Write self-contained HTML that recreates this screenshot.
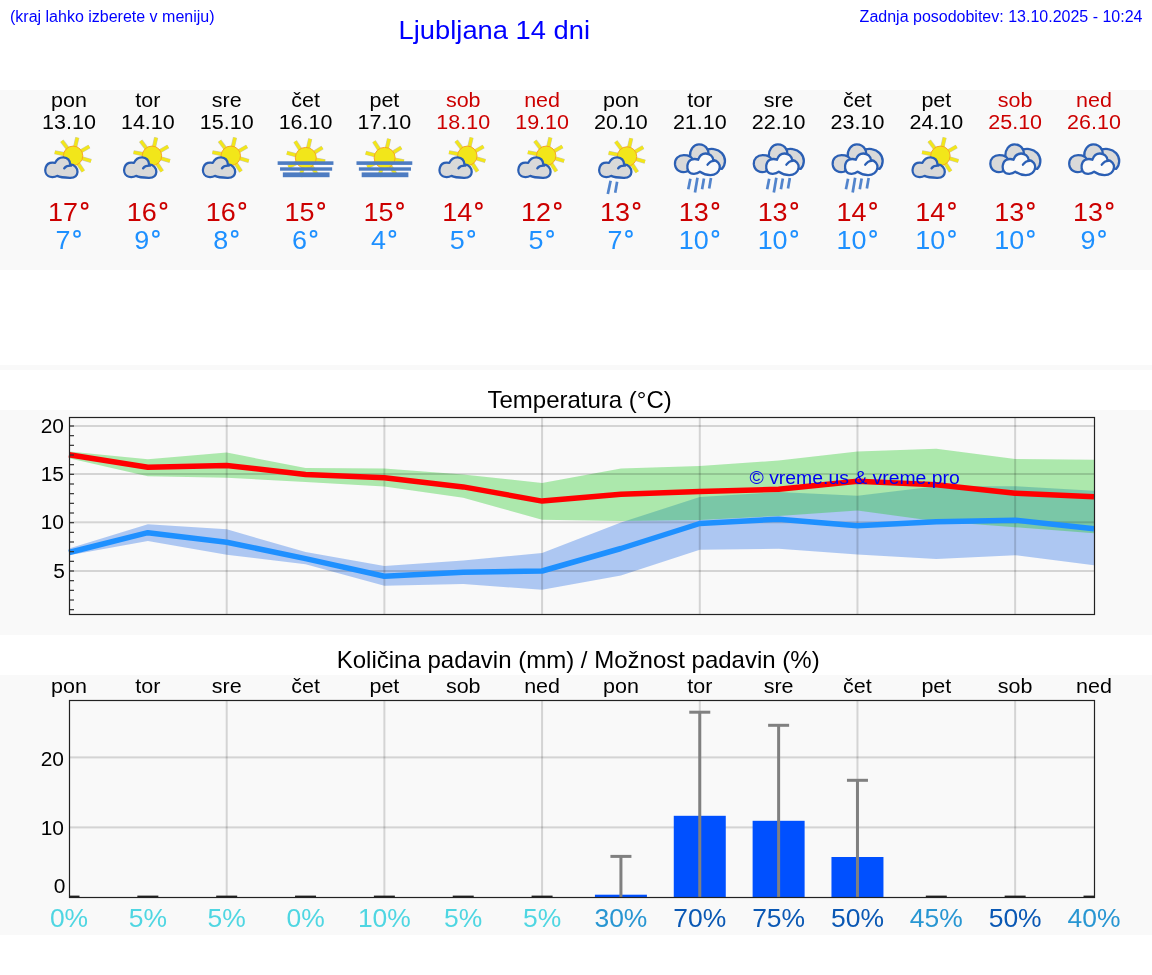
<!DOCTYPE html><html><head><meta charset="utf-8"><title>Ljubljana 14 dni</title>
<style>
html,body{margin:0;padding:0;background:#fff;width:1152px;height:975px;overflow:hidden}
body{font-family:"Liberation Sans",sans-serif;position:relative}
.hdr{position:absolute;color:#0000ff;white-space:nowrap;line-height:1}
svg{position:absolute;left:0;top:0;will-change:transform}
svg text{font-family:"Liberation Sans",sans-serif}
</style></head><body>
<svg width="1152" height="975" viewBox="0 0 1152 975">
<rect x="0" y="90" width="1152" height="180" fill="#f9f9f9"/>
<rect x="0" y="365" width="1152" height="5" fill="#f9f9f9"/>
<rect x="0" y="410" width="1152" height="225" fill="#f9f9f9"/>
<rect x="0" y="675" width="1152" height="260" fill="#f9f9f9"/>

<text x="10.00" y="21.60" text-anchor="start" font-size="16" fill="#0000ff">(kraj lahko izberete v meniju)</text>
<text transform="translate(398.6,39.3) scale(1.035,1)" font-size="26.4" fill="#0000ff">Ljubljana 14 dni</text>
<text x="1142.50" y="21.50" text-anchor="end" font-size="16" fill="#0000ff">Zadnja posodobitev: 13.10.2025 - 10:24</text>
<text transform="translate(69.00,106.50) scale(1.05,1)" text-anchor="middle" font-size="20.48" fill="#000">pon</text>
<text transform="translate(69.00,128.70) scale(1.05,1)" text-anchor="middle" font-size="20.48" fill="#000">13.10</text>
<line x1="64.27" y1="154.08" x2="54.74" y2="152.23" stroke="#8c8c78" stroke-width="4.2" stroke-linecap="butt" opacity="0.45"/><line x1="64.27" y1="154.08" x2="54.74" y2="152.23" stroke="#f2e61a" stroke-width="3.2"/><line x1="67.68" y1="148.61" x2="61.85" y2="140.87" stroke="#8c8c78" stroke-width="4.2" stroke-linecap="butt" opacity="0.45"/><line x1="67.68" y1="148.61" x2="61.85" y2="140.87" stroke="#f2e61a" stroke-width="3.2"/><line x1="75.12" y1="147.03" x2="77.31" y2="137.58" stroke="#8c8c78" stroke-width="4.2" stroke-linecap="butt" opacity="0.45"/><line x1="75.12" y1="147.03" x2="77.31" y2="137.58" stroke="#f2e61a" stroke-width="3.2"/><line x1="80.89" y1="151.30" x2="89.29" y2="146.45" stroke="#8c8c78" stroke-width="4.2" stroke-linecap="butt" opacity="0.45"/><line x1="80.89" y1="151.30" x2="89.29" y2="146.45" stroke="#f2e61a" stroke-width="3.2"/><line x1="81.75" y1="158.28" x2="91.08" y2="160.95" stroke="#8c8c78" stroke-width="4.2" stroke-linecap="butt" opacity="0.45"/><line x1="81.75" y1="158.28" x2="91.08" y2="160.95" stroke="#f2e61a" stroke-width="3.2"/><line x1="78.00" y1="163.35" x2="83.28" y2="171.48" stroke="#8c8c78" stroke-width="4.2" stroke-linecap="butt" opacity="0.45"/><line x1="78.00" y1="163.35" x2="83.28" y2="171.48" stroke="#f2e61a" stroke-width="3.2"/><line x1="70.77" y1="164.49" x2="68.26" y2="173.86" stroke="#8c8c78" stroke-width="4.2" stroke-linecap="butt" opacity="0.45"/><line x1="70.77" y1="164.49" x2="68.26" y2="173.86" stroke="#f2e61a" stroke-width="3.2"/><line x1="65.31" y1="160.30" x2="56.91" y2="165.15" stroke="#8c8c78" stroke-width="4.2" stroke-linecap="butt" opacity="0.45"/><line x1="65.31" y1="160.30" x2="56.91" y2="165.15" stroke="#f2e61a" stroke-width="3.2"/><circle cx="73.10" cy="155.80" r="9.7" fill="#f2e61a" stroke="#f5a623" stroke-width="1"/><g transform="translate(40.00,135.00) scale(0.052083)"><path d="M330,785 C280,815 200,815 160,790 C105,755 90,680 110,620 C135,545 210,520 290,535 C320,470 380,425 450,428 C530,432 575,490 580,565 C670,570 725,640 720,710 C715,790 650,825 570,822 C480,820 390,815 330,785 Z" fill="#d9d9d9" stroke="#2b5fb4" stroke-width="44" stroke-linejoin="round"/><path d="M465,640 C490,600 540,585 600,588" fill="none" stroke="#2b5fb4" stroke-width="44" stroke-linecap="round"/></g>
<text transform="translate(63.00,220.80) scale(1.07,1)" text-anchor="middle" font-size="25.2" fill="#cc0000">17</text><circle cx="84.66" cy="205.90" r="2.95" fill="none" stroke="#cc0000" stroke-width="1.75"/>
<text transform="translate(63.00,248.80) scale(1.07,1)" text-anchor="middle" font-size="25.2" fill="#1e90ff">7</text><circle cx="77.03" cy="233.90" r="2.95" fill="none" stroke="#1e90ff" stroke-width="1.75"/>
<text transform="translate(147.85,106.50) scale(1.05,1)" text-anchor="middle" font-size="20.48" fill="#000">tor</text>
<text transform="translate(147.85,128.70) scale(1.05,1)" text-anchor="middle" font-size="20.48" fill="#000">14.10</text>
<line x1="143.11" y1="154.08" x2="133.59" y2="152.23" stroke="#8c8c78" stroke-width="4.2" stroke-linecap="butt" opacity="0.45"/><line x1="143.11" y1="154.08" x2="133.59" y2="152.23" stroke="#f2e61a" stroke-width="3.2"/><line x1="146.53" y1="148.61" x2="140.69" y2="140.87" stroke="#8c8c78" stroke-width="4.2" stroke-linecap="butt" opacity="0.45"/><line x1="146.53" y1="148.61" x2="140.69" y2="140.87" stroke="#f2e61a" stroke-width="3.2"/><line x1="153.97" y1="147.03" x2="156.15" y2="137.58" stroke="#8c8c78" stroke-width="4.2" stroke-linecap="butt" opacity="0.45"/><line x1="153.97" y1="147.03" x2="156.15" y2="137.58" stroke="#f2e61a" stroke-width="3.2"/><line x1="159.74" y1="151.30" x2="168.14" y2="146.45" stroke="#8c8c78" stroke-width="4.2" stroke-linecap="butt" opacity="0.45"/><line x1="159.74" y1="151.30" x2="168.14" y2="146.45" stroke="#f2e61a" stroke-width="3.2"/><line x1="160.60" y1="158.28" x2="169.92" y2="160.95" stroke="#8c8c78" stroke-width="4.2" stroke-linecap="butt" opacity="0.45"/><line x1="160.60" y1="158.28" x2="169.92" y2="160.95" stroke="#f2e61a" stroke-width="3.2"/><line x1="156.85" y1="163.35" x2="162.13" y2="171.48" stroke="#8c8c78" stroke-width="4.2" stroke-linecap="butt" opacity="0.45"/><line x1="156.85" y1="163.35" x2="162.13" y2="171.48" stroke="#f2e61a" stroke-width="3.2"/><line x1="149.62" y1="164.49" x2="147.11" y2="173.86" stroke="#8c8c78" stroke-width="4.2" stroke-linecap="butt" opacity="0.45"/><line x1="149.62" y1="164.49" x2="147.11" y2="173.86" stroke="#f2e61a" stroke-width="3.2"/><line x1="144.15" y1="160.30" x2="135.75" y2="165.15" stroke="#8c8c78" stroke-width="4.2" stroke-linecap="butt" opacity="0.45"/><line x1="144.15" y1="160.30" x2="135.75" y2="165.15" stroke="#f2e61a" stroke-width="3.2"/><circle cx="151.95" cy="155.80" r="9.7" fill="#f2e61a" stroke="#f5a623" stroke-width="1"/><g transform="translate(118.85,135.00) scale(0.052083)"><path d="M330,785 C280,815 200,815 160,790 C105,755 90,680 110,620 C135,545 210,520 290,535 C320,470 380,425 450,428 C530,432 575,490 580,565 C670,570 725,640 720,710 C715,790 650,825 570,822 C480,820 390,815 330,785 Z" fill="#d9d9d9" stroke="#2b5fb4" stroke-width="44" stroke-linejoin="round"/><path d="M465,640 C490,600 540,585 600,588" fill="none" stroke="#2b5fb4" stroke-width="44" stroke-linecap="round"/></g>
<text transform="translate(141.85,220.80) scale(1.07,1)" text-anchor="middle" font-size="25.2" fill="#cc0000">16</text><circle cx="163.51" cy="205.90" r="2.95" fill="none" stroke="#cc0000" stroke-width="1.75"/>
<text transform="translate(141.85,248.80) scale(1.07,1)" text-anchor="middle" font-size="25.2" fill="#1e90ff">9</text><circle cx="155.88" cy="233.90" r="2.95" fill="none" stroke="#1e90ff" stroke-width="1.75"/>
<text transform="translate(226.69,106.50) scale(1.05,1)" text-anchor="middle" font-size="20.48" fill="#000">sre</text>
<text transform="translate(226.69,128.70) scale(1.05,1)" text-anchor="middle" font-size="20.48" fill="#000">15.10</text>
<line x1="221.96" y1="154.08" x2="212.44" y2="152.23" stroke="#8c8c78" stroke-width="4.2" stroke-linecap="butt" opacity="0.45"/><line x1="221.96" y1="154.08" x2="212.44" y2="152.23" stroke="#f2e61a" stroke-width="3.2"/><line x1="225.38" y1="148.61" x2="219.54" y2="140.87" stroke="#8c8c78" stroke-width="4.2" stroke-linecap="butt" opacity="0.45"/><line x1="225.38" y1="148.61" x2="219.54" y2="140.87" stroke="#f2e61a" stroke-width="3.2"/><line x1="232.82" y1="147.03" x2="235.00" y2="137.58" stroke="#8c8c78" stroke-width="4.2" stroke-linecap="butt" opacity="0.45"/><line x1="232.82" y1="147.03" x2="235.00" y2="137.58" stroke="#f2e61a" stroke-width="3.2"/><line x1="238.59" y1="151.30" x2="246.99" y2="146.45" stroke="#8c8c78" stroke-width="4.2" stroke-linecap="butt" opacity="0.45"/><line x1="238.59" y1="151.30" x2="246.99" y2="146.45" stroke="#f2e61a" stroke-width="3.2"/><line x1="239.44" y1="158.28" x2="248.77" y2="160.95" stroke="#8c8c78" stroke-width="4.2" stroke-linecap="butt" opacity="0.45"/><line x1="239.44" y1="158.28" x2="248.77" y2="160.95" stroke="#f2e61a" stroke-width="3.2"/><line x1="235.69" y1="163.35" x2="240.98" y2="171.48" stroke="#8c8c78" stroke-width="4.2" stroke-linecap="butt" opacity="0.45"/><line x1="235.69" y1="163.35" x2="240.98" y2="171.48" stroke="#f2e61a" stroke-width="3.2"/><line x1="228.46" y1="164.49" x2="225.95" y2="173.86" stroke="#8c8c78" stroke-width="4.2" stroke-linecap="butt" opacity="0.45"/><line x1="228.46" y1="164.49" x2="225.95" y2="173.86" stroke="#f2e61a" stroke-width="3.2"/><line x1="223.00" y1="160.30" x2="214.60" y2="165.15" stroke="#8c8c78" stroke-width="4.2" stroke-linecap="butt" opacity="0.45"/><line x1="223.00" y1="160.30" x2="214.60" y2="165.15" stroke="#f2e61a" stroke-width="3.2"/><circle cx="230.79" cy="155.80" r="9.7" fill="#f2e61a" stroke="#f5a623" stroke-width="1"/><g transform="translate(197.69,135.00) scale(0.052083)"><path d="M330,785 C280,815 200,815 160,790 C105,755 90,680 110,620 C135,545 210,520 290,535 C320,470 380,425 450,428 C530,432 575,490 580,565 C670,570 725,640 720,710 C715,790 650,825 570,822 C480,820 390,815 330,785 Z" fill="#d9d9d9" stroke="#2b5fb4" stroke-width="44" stroke-linejoin="round"/><path d="M465,640 C490,600 540,585 600,588" fill="none" stroke="#2b5fb4" stroke-width="44" stroke-linecap="round"/></g>
<text transform="translate(220.69,220.80) scale(1.07,1)" text-anchor="middle" font-size="25.2" fill="#cc0000">16</text><circle cx="242.36" cy="205.90" r="2.95" fill="none" stroke="#cc0000" stroke-width="1.75"/>
<text transform="translate(220.69,248.80) scale(1.07,1)" text-anchor="middle" font-size="25.2" fill="#1e90ff">8</text><circle cx="234.72" cy="233.90" r="2.95" fill="none" stroke="#1e90ff" stroke-width="1.75"/>
<text transform="translate(305.54,106.50) scale(1.05,1)" text-anchor="middle" font-size="20.48" fill="#000">čet</text>
<text transform="translate(305.54,128.70) scale(1.05,1)" text-anchor="middle" font-size="20.48" fill="#000">16.10</text>
<line x1="296.13" y1="155.31" x2="286.86" y2="152.83" stroke="#8c8c78" stroke-width="4.2" stroke-linecap="butt" opacity="0.45"/><line x1="296.13" y1="155.31" x2="286.86" y2="152.83" stroke="#f2e61a" stroke-width="3.2"/><line x1="300.34" y1="149.51" x2="295.11" y2="141.46" stroke="#8c8c78" stroke-width="4.2" stroke-linecap="butt" opacity="0.45"/><line x1="300.34" y1="149.51" x2="295.11" y2="141.46" stroke="#f2e61a" stroke-width="3.2"/><line x1="308.04" y1="148.16" x2="310.20" y2="138.80" stroke="#8c8c78" stroke-width="4.2" stroke-linecap="butt" opacity="0.45"/><line x1="308.04" y1="148.16" x2="310.20" y2="138.80" stroke="#f2e61a" stroke-width="3.2"/><line x1="314.27" y1="152.60" x2="322.41" y2="147.51" stroke="#8c8c78" stroke-width="4.2" stroke-linecap="butt" opacity="0.45"/><line x1="314.27" y1="152.60" x2="322.41" y2="147.51" stroke="#f2e61a" stroke-width="3.2"/><line x1="315.64" y1="159.64" x2="325.09" y2="161.30" stroke="#8c8c78" stroke-width="4.2" stroke-linecap="butt" opacity="0.45"/><line x1="315.64" y1="159.64" x2="325.09" y2="161.30" stroke="#f2e61a" stroke-width="3.2"/><line x1="311.38" y1="166.19" x2="316.75" y2="174.15" stroke="#8c8c78" stroke-width="4.2" stroke-linecap="butt" opacity="0.45"/><line x1="311.38" y1="166.19" x2="316.75" y2="174.15" stroke="#f2e61a" stroke-width="3.2"/><line x1="303.03" y1="167.51" x2="300.39" y2="176.74" stroke="#8c8c78" stroke-width="4.2" stroke-linecap="butt" opacity="0.45"/><line x1="303.03" y1="167.51" x2="300.39" y2="176.74" stroke="#f2e61a" stroke-width="3.2"/><line x1="296.96" y1="162.59" x2="288.48" y2="167.10" stroke="#8c8c78" stroke-width="4.2" stroke-linecap="butt" opacity="0.45"/><line x1="296.96" y1="162.59" x2="288.48" y2="167.10" stroke="#f2e61a" stroke-width="3.2"/><circle cx="305.79" cy="157.90" r="10.5" fill="#f2e61a" stroke="#f5a623" stroke-width="1"/><rect x="277.64" y="161.3" width="55.8" height="3.6" fill="#4d7cc2"/><rect x="280.04" y="167.3" width="52.1" height="3.4" fill="#4d7cc2"/><rect x="282.84" y="172.4" width="46.7" height="4.8" fill="#4d7cc2"/>
<text transform="translate(299.54,220.80) scale(1.07,1)" text-anchor="middle" font-size="25.2" fill="#cc0000">15</text><circle cx="321.20" cy="205.90" r="2.95" fill="none" stroke="#cc0000" stroke-width="1.75"/>
<text transform="translate(299.54,248.80) scale(1.07,1)" text-anchor="middle" font-size="25.2" fill="#1e90ff">6</text><circle cx="313.57" cy="233.90" r="2.95" fill="none" stroke="#1e90ff" stroke-width="1.75"/>
<text transform="translate(384.38,106.50) scale(1.05,1)" text-anchor="middle" font-size="20.48" fill="#000">pet</text>
<text transform="translate(384.38,128.70) scale(1.05,1)" text-anchor="middle" font-size="20.48" fill="#000">17.10</text>
<line x1="374.98" y1="155.31" x2="365.70" y2="152.83" stroke="#8c8c78" stroke-width="4.2" stroke-linecap="butt" opacity="0.45"/><line x1="374.98" y1="155.31" x2="365.70" y2="152.83" stroke="#f2e61a" stroke-width="3.2"/><line x1="379.19" y1="149.51" x2="373.96" y2="141.46" stroke="#8c8c78" stroke-width="4.2" stroke-linecap="butt" opacity="0.45"/><line x1="379.19" y1="149.51" x2="373.96" y2="141.46" stroke="#f2e61a" stroke-width="3.2"/><line x1="386.88" y1="148.16" x2="389.04" y2="138.80" stroke="#8c8c78" stroke-width="4.2" stroke-linecap="butt" opacity="0.45"/><line x1="386.88" y1="148.16" x2="389.04" y2="138.80" stroke="#f2e61a" stroke-width="3.2"/><line x1="393.12" y1="152.60" x2="401.26" y2="147.51" stroke="#8c8c78" stroke-width="4.2" stroke-linecap="butt" opacity="0.45"/><line x1="393.12" y1="152.60" x2="401.26" y2="147.51" stroke="#f2e61a" stroke-width="3.2"/><line x1="394.48" y1="159.64" x2="403.94" y2="161.30" stroke="#8c8c78" stroke-width="4.2" stroke-linecap="butt" opacity="0.45"/><line x1="394.48" y1="159.64" x2="403.94" y2="161.30" stroke="#f2e61a" stroke-width="3.2"/><line x1="390.23" y1="166.19" x2="395.59" y2="174.15" stroke="#8c8c78" stroke-width="4.2" stroke-linecap="butt" opacity="0.45"/><line x1="390.23" y1="166.19" x2="395.59" y2="174.15" stroke="#f2e61a" stroke-width="3.2"/><line x1="381.88" y1="167.51" x2="379.23" y2="176.74" stroke="#8c8c78" stroke-width="4.2" stroke-linecap="butt" opacity="0.45"/><line x1="381.88" y1="167.51" x2="379.23" y2="176.74" stroke="#f2e61a" stroke-width="3.2"/><line x1="375.81" y1="162.59" x2="367.33" y2="167.10" stroke="#8c8c78" stroke-width="4.2" stroke-linecap="butt" opacity="0.45"/><line x1="375.81" y1="162.59" x2="367.33" y2="167.10" stroke="#f2e61a" stroke-width="3.2"/><circle cx="384.63" cy="157.90" r="10.5" fill="#f2e61a" stroke="#f5a623" stroke-width="1"/><rect x="356.48" y="161.3" width="55.8" height="3.6" fill="#4d7cc2"/><rect x="358.88" y="167.3" width="52.1" height="3.4" fill="#4d7cc2"/><rect x="361.68" y="172.4" width="46.7" height="4.8" fill="#4d7cc2"/>
<text transform="translate(378.38,220.80) scale(1.07,1)" text-anchor="middle" font-size="25.2" fill="#cc0000">15</text><circle cx="400.05" cy="205.90" r="2.95" fill="none" stroke="#cc0000" stroke-width="1.75"/>
<text transform="translate(378.38,248.80) scale(1.07,1)" text-anchor="middle" font-size="25.2" fill="#1e90ff">4</text><circle cx="392.42" cy="233.90" r="2.95" fill="none" stroke="#1e90ff" stroke-width="1.75"/>
<text transform="translate(463.23,106.50) scale(1.05,1)" text-anchor="middle" font-size="20.48" fill="#cc0000">sob</text>
<text transform="translate(463.23,128.70) scale(1.05,1)" text-anchor="middle" font-size="20.48" fill="#cc0000">18.10</text>
<line x1="458.50" y1="154.08" x2="448.97" y2="152.23" stroke="#8c8c78" stroke-width="4.2" stroke-linecap="butt" opacity="0.45"/><line x1="458.50" y1="154.08" x2="448.97" y2="152.23" stroke="#f2e61a" stroke-width="3.2"/><line x1="461.91" y1="148.61" x2="456.08" y2="140.87" stroke="#8c8c78" stroke-width="4.2" stroke-linecap="butt" opacity="0.45"/><line x1="461.91" y1="148.61" x2="456.08" y2="140.87" stroke="#f2e61a" stroke-width="3.2"/><line x1="469.36" y1="147.03" x2="471.54" y2="137.58" stroke="#8c8c78" stroke-width="4.2" stroke-linecap="butt" opacity="0.45"/><line x1="469.36" y1="147.03" x2="471.54" y2="137.58" stroke="#f2e61a" stroke-width="3.2"/><line x1="475.12" y1="151.30" x2="483.53" y2="146.45" stroke="#8c8c78" stroke-width="4.2" stroke-linecap="butt" opacity="0.45"/><line x1="475.12" y1="151.30" x2="483.53" y2="146.45" stroke="#f2e61a" stroke-width="3.2"/><line x1="475.98" y1="158.28" x2="485.31" y2="160.95" stroke="#8c8c78" stroke-width="4.2" stroke-linecap="butt" opacity="0.45"/><line x1="475.98" y1="158.28" x2="485.31" y2="160.95" stroke="#f2e61a" stroke-width="3.2"/><line x1="472.23" y1="163.35" x2="477.52" y2="171.48" stroke="#8c8c78" stroke-width="4.2" stroke-linecap="butt" opacity="0.45"/><line x1="472.23" y1="163.35" x2="477.52" y2="171.48" stroke="#f2e61a" stroke-width="3.2"/><line x1="465.00" y1="164.49" x2="462.49" y2="173.86" stroke="#8c8c78" stroke-width="4.2" stroke-linecap="butt" opacity="0.45"/><line x1="465.00" y1="164.49" x2="462.49" y2="173.86" stroke="#f2e61a" stroke-width="3.2"/><line x1="459.54" y1="160.30" x2="451.14" y2="165.15" stroke="#8c8c78" stroke-width="4.2" stroke-linecap="butt" opacity="0.45"/><line x1="459.54" y1="160.30" x2="451.14" y2="165.15" stroke="#f2e61a" stroke-width="3.2"/><circle cx="467.33" cy="155.80" r="9.7" fill="#f2e61a" stroke="#f5a623" stroke-width="1"/><g transform="translate(434.23,135.00) scale(0.052083)"><path d="M330,785 C280,815 200,815 160,790 C105,755 90,680 110,620 C135,545 210,520 290,535 C320,470 380,425 450,428 C530,432 575,490 580,565 C670,570 725,640 720,710 C715,790 650,825 570,822 C480,820 390,815 330,785 Z" fill="#d9d9d9" stroke="#2b5fb4" stroke-width="44" stroke-linejoin="round"/><path d="M465,640 C490,600 540,585 600,588" fill="none" stroke="#2b5fb4" stroke-width="44" stroke-linecap="round"/></g>
<text transform="translate(457.23,220.80) scale(1.07,1)" text-anchor="middle" font-size="25.2" fill="#cc0000">14</text><circle cx="478.89" cy="205.90" r="2.95" fill="none" stroke="#cc0000" stroke-width="1.75"/>
<text transform="translate(457.23,248.80) scale(1.07,1)" text-anchor="middle" font-size="25.2" fill="#1e90ff">5</text><circle cx="471.26" cy="233.90" r="2.95" fill="none" stroke="#1e90ff" stroke-width="1.75"/>
<text transform="translate(542.08,106.50) scale(1.05,1)" text-anchor="middle" font-size="20.48" fill="#cc0000">ned</text>
<text transform="translate(542.08,128.70) scale(1.05,1)" text-anchor="middle" font-size="20.48" fill="#cc0000">19.10</text>
<line x1="537.34" y1="154.08" x2="527.82" y2="152.23" stroke="#8c8c78" stroke-width="4.2" stroke-linecap="butt" opacity="0.45"/><line x1="537.34" y1="154.08" x2="527.82" y2="152.23" stroke="#f2e61a" stroke-width="3.2"/><line x1="540.76" y1="148.61" x2="534.92" y2="140.87" stroke="#8c8c78" stroke-width="4.2" stroke-linecap="butt" opacity="0.45"/><line x1="540.76" y1="148.61" x2="534.92" y2="140.87" stroke="#f2e61a" stroke-width="3.2"/><line x1="548.20" y1="147.03" x2="550.38" y2="137.58" stroke="#8c8c78" stroke-width="4.2" stroke-linecap="butt" opacity="0.45"/><line x1="548.20" y1="147.03" x2="550.38" y2="137.58" stroke="#f2e61a" stroke-width="3.2"/><line x1="553.97" y1="151.30" x2="562.37" y2="146.45" stroke="#8c8c78" stroke-width="4.2" stroke-linecap="butt" opacity="0.45"/><line x1="553.97" y1="151.30" x2="562.37" y2="146.45" stroke="#f2e61a" stroke-width="3.2"/><line x1="554.83" y1="158.28" x2="564.15" y2="160.95" stroke="#8c8c78" stroke-width="4.2" stroke-linecap="butt" opacity="0.45"/><line x1="554.83" y1="158.28" x2="564.15" y2="160.95" stroke="#f2e61a" stroke-width="3.2"/><line x1="551.08" y1="163.35" x2="556.36" y2="171.48" stroke="#8c8c78" stroke-width="4.2" stroke-linecap="butt" opacity="0.45"/><line x1="551.08" y1="163.35" x2="556.36" y2="171.48" stroke="#f2e61a" stroke-width="3.2"/><line x1="543.85" y1="164.49" x2="541.34" y2="173.86" stroke="#8c8c78" stroke-width="4.2" stroke-linecap="butt" opacity="0.45"/><line x1="543.85" y1="164.49" x2="541.34" y2="173.86" stroke="#f2e61a" stroke-width="3.2"/><line x1="538.38" y1="160.30" x2="529.98" y2="165.15" stroke="#8c8c78" stroke-width="4.2" stroke-linecap="butt" opacity="0.45"/><line x1="538.38" y1="160.30" x2="529.98" y2="165.15" stroke="#f2e61a" stroke-width="3.2"/><circle cx="546.18" cy="155.80" r="9.7" fill="#f2e61a" stroke="#f5a623" stroke-width="1"/><g transform="translate(513.08,135.00) scale(0.052083)"><path d="M330,785 C280,815 200,815 160,790 C105,755 90,680 110,620 C135,545 210,520 290,535 C320,470 380,425 450,428 C530,432 575,490 580,565 C670,570 725,640 720,710 C715,790 650,825 570,822 C480,820 390,815 330,785 Z" fill="#d9d9d9" stroke="#2b5fb4" stroke-width="44" stroke-linejoin="round"/><path d="M465,640 C490,600 540,585 600,588" fill="none" stroke="#2b5fb4" stroke-width="44" stroke-linecap="round"/></g>
<text transform="translate(536.08,220.80) scale(1.07,1)" text-anchor="middle" font-size="25.2" fill="#cc0000">12</text><circle cx="557.74" cy="205.90" r="2.95" fill="none" stroke="#cc0000" stroke-width="1.75"/>
<text transform="translate(536.08,248.80) scale(1.07,1)" text-anchor="middle" font-size="25.2" fill="#1e90ff">5</text><circle cx="550.11" cy="233.90" r="2.95" fill="none" stroke="#1e90ff" stroke-width="1.75"/>
<text transform="translate(620.92,106.50) scale(1.05,1)" text-anchor="middle" font-size="20.48" fill="#000">pon</text>
<text transform="translate(620.92,128.70) scale(1.05,1)" text-anchor="middle" font-size="20.48" fill="#000">20.10</text>
<line x1="618.19" y1="154.78" x2="608.67" y2="152.93" stroke="#8c8c78" stroke-width="4.2" stroke-linecap="butt" opacity="0.45"/><line x1="618.19" y1="154.78" x2="608.67" y2="152.93" stroke="#f2e61a" stroke-width="3.2"/><line x1="621.61" y1="149.31" x2="615.77" y2="141.57" stroke="#8c8c78" stroke-width="4.2" stroke-linecap="butt" opacity="0.45"/><line x1="621.61" y1="149.31" x2="615.77" y2="141.57" stroke="#f2e61a" stroke-width="3.2"/><line x1="629.05" y1="147.73" x2="631.23" y2="138.28" stroke="#8c8c78" stroke-width="4.2" stroke-linecap="butt" opacity="0.45"/><line x1="629.05" y1="147.73" x2="631.23" y2="138.28" stroke="#f2e61a" stroke-width="3.2"/><line x1="634.82" y1="152.00" x2="643.22" y2="147.15" stroke="#8c8c78" stroke-width="4.2" stroke-linecap="butt" opacity="0.45"/><line x1="634.82" y1="152.00" x2="643.22" y2="147.15" stroke="#f2e61a" stroke-width="3.2"/><line x1="635.67" y1="158.98" x2="645.00" y2="161.65" stroke="#8c8c78" stroke-width="4.2" stroke-linecap="butt" opacity="0.45"/><line x1="635.67" y1="158.98" x2="645.00" y2="161.65" stroke="#f2e61a" stroke-width="3.2"/><line x1="631.92" y1="164.05" x2="637.21" y2="172.18" stroke="#8c8c78" stroke-width="4.2" stroke-linecap="butt" opacity="0.45"/><line x1="631.92" y1="164.05" x2="637.21" y2="172.18" stroke="#f2e61a" stroke-width="3.2"/><line x1="624.69" y1="165.19" x2="622.18" y2="174.56" stroke="#8c8c78" stroke-width="4.2" stroke-linecap="butt" opacity="0.45"/><line x1="624.69" y1="165.19" x2="622.18" y2="174.56" stroke="#f2e61a" stroke-width="3.2"/><line x1="619.23" y1="161.00" x2="610.83" y2="165.85" stroke="#8c8c78" stroke-width="4.2" stroke-linecap="butt" opacity="0.45"/><line x1="619.23" y1="161.00" x2="610.83" y2="165.85" stroke="#f2e61a" stroke-width="3.2"/><circle cx="627.02" cy="156.50" r="9.7" fill="#f2e61a" stroke="#f5a623" stroke-width="1"/><g transform="translate(593.92,135.00) scale(0.052083)"><path d="M330,785 C280,815 200,815 160,790 C105,755 90,680 110,620 C135,545 210,520 290,535 C320,470 380,425 450,428 C530,432 575,490 580,565 C670,570 725,640 720,710 C715,790 650,825 570,822 C480,820 390,815 330,785 Z" fill="#d9d9d9" stroke="#2b5fb4" stroke-width="44" stroke-linejoin="round"/><path d="M465,640 C490,600 540,585 600,588" fill="none" stroke="#2b5fb4" stroke-width="44" stroke-linecap="round"/></g><line x1="610.62" y1="180.80" x2="607.82" y2="194.00" stroke="#5284cc" stroke-width="2.7" stroke-linecap="butt"/><line x1="617.12" y1="181.80" x2="615.22" y2="192.80" stroke="#5284cc" stroke-width="2.7" stroke-linecap="butt"/>
<text transform="translate(614.92,220.80) scale(1.07,1)" text-anchor="middle" font-size="25.2" fill="#cc0000">13</text><circle cx="636.59" cy="205.90" r="2.95" fill="none" stroke="#cc0000" stroke-width="1.75"/>
<text transform="translate(614.92,248.80) scale(1.07,1)" text-anchor="middle" font-size="25.2" fill="#1e90ff">7</text><circle cx="628.96" cy="233.90" r="2.95" fill="none" stroke="#1e90ff" stroke-width="1.75"/>
<text transform="translate(699.77,106.50) scale(1.05,1)" text-anchor="middle" font-size="20.48" fill="#000">tor</text>
<text transform="translate(699.77,128.70) scale(1.05,1)" text-anchor="middle" font-size="20.48" fill="#000">21.10</text>
<g transform="translate(669.77,135.00) scale(0.052083)"><path d="M330,700 C230,735 110,690 100,560 C95,450 170,385 270,385 C320,385 360,395 390,410 C380,280 460,180 560,180 C640,180 700,230 725,275 C770,265 810,262 850,270 C970,290 1060,380 1060,500 C1060,570 1030,620 1000,650 L720,620 L400,620 Z" fill="#d9d9d9" stroke="#2b5fb4" stroke-width="44" stroke-linejoin="round"/><path d="M390,410 C410,425 425,440 435,460 M725,275 C735,295 740,315 742,340" fill="none" stroke="#2b5fb4" stroke-width="44" stroke-linecap="round"/></g><g transform="translate(669.77,135.00) scale(0.052083)"><path d="M580,705 C520,760 400,760 360,700 C320,640 330,520 400,480 C450,455 510,460 545,475 C570,400 620,355 690,355 C770,355 830,410 835,480 C920,490 965,560 960,620 C955,720 870,770 780,770 C700,770 630,740 580,705 Z" fill="#fafafa" stroke="#2b5fb4" stroke-width="44" stroke-linejoin="round"/><path d="M725,570 C760,520 800,495 850,495" fill="none" stroke="#2b5fb4" stroke-width="44" stroke-linecap="round"/></g><line x1="690.37" y1="178.70" x2="688.27" y2="189.20" stroke="#5284cc" stroke-width="2.7" stroke-linecap="butt"/><line x1="697.47" y1="177.80" x2="694.97" y2="192.50" stroke="#5284cc" stroke-width="2.7" stroke-linecap="butt"/><line x1="703.97" y1="178.40" x2="702.07" y2="189.20" stroke="#5284cc" stroke-width="2.7" stroke-linecap="butt"/><line x1="710.97" y1="178.10" x2="709.17" y2="188.50" stroke="#5284cc" stroke-width="2.7" stroke-linecap="butt"/>
<text transform="translate(693.77,220.80) scale(1.07,1)" text-anchor="middle" font-size="25.2" fill="#cc0000">13</text><circle cx="715.43" cy="205.90" r="2.95" fill="none" stroke="#cc0000" stroke-width="1.75"/>
<text transform="translate(693.77,248.80) scale(1.07,1)" text-anchor="middle" font-size="25.2" fill="#1e90ff">10</text><circle cx="715.43" cy="233.90" r="2.95" fill="none" stroke="#1e90ff" stroke-width="1.75"/>
<text transform="translate(778.62,106.50) scale(1.05,1)" text-anchor="middle" font-size="20.48" fill="#000">sre</text>
<text transform="translate(778.62,128.70) scale(1.05,1)" text-anchor="middle" font-size="20.48" fill="#000">22.10</text>
<g transform="translate(748.62,135.00) scale(0.052083)"><path d="M330,700 C230,735 110,690 100,560 C95,450 170,385 270,385 C320,385 360,395 390,410 C380,280 460,180 560,180 C640,180 700,230 725,275 C770,265 810,262 850,270 C970,290 1060,380 1060,500 C1060,570 1030,620 1000,650 L720,620 L400,620 Z" fill="#d9d9d9" stroke="#2b5fb4" stroke-width="44" stroke-linejoin="round"/><path d="M390,410 C410,425 425,440 435,460 M725,275 C735,295 740,315 742,340" fill="none" stroke="#2b5fb4" stroke-width="44" stroke-linecap="round"/></g><g transform="translate(748.62,135.00) scale(0.052083)"><path d="M580,705 C520,760 400,760 360,700 C320,640 330,520 400,480 C450,455 510,460 545,475 C570,400 620,355 690,355 C770,355 830,410 835,480 C920,490 965,560 960,620 C955,720 870,770 780,770 C700,770 630,740 580,705 Z" fill="#fafafa" stroke="#2b5fb4" stroke-width="44" stroke-linejoin="round"/><path d="M725,570 C760,520 800,495 850,495" fill="none" stroke="#2b5fb4" stroke-width="44" stroke-linecap="round"/></g><line x1="769.22" y1="178.70" x2="767.12" y2="189.20" stroke="#5284cc" stroke-width="2.7" stroke-linecap="butt"/><line x1="776.32" y1="177.80" x2="773.82" y2="192.50" stroke="#5284cc" stroke-width="2.7" stroke-linecap="butt"/><line x1="782.82" y1="178.40" x2="780.92" y2="189.20" stroke="#5284cc" stroke-width="2.7" stroke-linecap="butt"/><line x1="789.82" y1="178.10" x2="788.02" y2="188.50" stroke="#5284cc" stroke-width="2.7" stroke-linecap="butt"/>
<text transform="translate(772.62,220.80) scale(1.07,1)" text-anchor="middle" font-size="25.2" fill="#cc0000">13</text><circle cx="794.28" cy="205.90" r="2.95" fill="none" stroke="#cc0000" stroke-width="1.75"/>
<text transform="translate(772.62,248.80) scale(1.07,1)" text-anchor="middle" font-size="25.2" fill="#1e90ff">10</text><circle cx="794.28" cy="233.90" r="2.95" fill="none" stroke="#1e90ff" stroke-width="1.75"/>
<text transform="translate(857.46,106.50) scale(1.05,1)" text-anchor="middle" font-size="20.48" fill="#000">čet</text>
<text transform="translate(857.46,128.70) scale(1.05,1)" text-anchor="middle" font-size="20.48" fill="#000">23.10</text>
<g transform="translate(827.46,135.00) scale(0.052083)"><path d="M330,700 C230,735 110,690 100,560 C95,450 170,385 270,385 C320,385 360,395 390,410 C380,280 460,180 560,180 C640,180 700,230 725,275 C770,265 810,262 850,270 C970,290 1060,380 1060,500 C1060,570 1030,620 1000,650 L720,620 L400,620 Z" fill="#d9d9d9" stroke="#2b5fb4" stroke-width="44" stroke-linejoin="round"/><path d="M390,410 C410,425 425,440 435,460 M725,275 C735,295 740,315 742,340" fill="none" stroke="#2b5fb4" stroke-width="44" stroke-linecap="round"/></g><g transform="translate(827.46,135.00) scale(0.052083)"><path d="M580,705 C520,760 400,760 360,700 C320,640 330,520 400,480 C450,455 510,460 545,475 C570,400 620,355 690,355 C770,355 830,410 835,480 C920,490 965,560 960,620 C955,720 870,770 780,770 C700,770 630,740 580,705 Z" fill="#fafafa" stroke="#2b5fb4" stroke-width="44" stroke-linejoin="round"/><path d="M725,570 C760,520 800,495 850,495" fill="none" stroke="#2b5fb4" stroke-width="44" stroke-linecap="round"/></g><line x1="848.06" y1="178.70" x2="845.96" y2="189.20" stroke="#5284cc" stroke-width="2.7" stroke-linecap="butt"/><line x1="855.16" y1="177.80" x2="852.66" y2="192.50" stroke="#5284cc" stroke-width="2.7" stroke-linecap="butt"/><line x1="861.66" y1="178.40" x2="859.76" y2="189.20" stroke="#5284cc" stroke-width="2.7" stroke-linecap="butt"/><line x1="868.66" y1="178.10" x2="866.86" y2="188.50" stroke="#5284cc" stroke-width="2.7" stroke-linecap="butt"/>
<text transform="translate(851.46,220.80) scale(1.07,1)" text-anchor="middle" font-size="25.2" fill="#cc0000">14</text><circle cx="873.13" cy="205.90" r="2.95" fill="none" stroke="#cc0000" stroke-width="1.75"/>
<text transform="translate(851.46,248.80) scale(1.07,1)" text-anchor="middle" font-size="25.2" fill="#1e90ff">10</text><circle cx="873.13" cy="233.90" r="2.95" fill="none" stroke="#1e90ff" stroke-width="1.75"/>
<text transform="translate(936.31,106.50) scale(1.05,1)" text-anchor="middle" font-size="20.48" fill="#000">pet</text>
<text transform="translate(936.31,128.70) scale(1.05,1)" text-anchor="middle" font-size="20.48" fill="#000">24.10</text>
<line x1="931.57" y1="154.08" x2="922.05" y2="152.23" stroke="#8c8c78" stroke-width="4.2" stroke-linecap="butt" opacity="0.45"/><line x1="931.57" y1="154.08" x2="922.05" y2="152.23" stroke="#f2e61a" stroke-width="3.2"/><line x1="934.99" y1="148.61" x2="929.15" y2="140.87" stroke="#8c8c78" stroke-width="4.2" stroke-linecap="butt" opacity="0.45"/><line x1="934.99" y1="148.61" x2="929.15" y2="140.87" stroke="#f2e61a" stroke-width="3.2"/><line x1="942.43" y1="147.03" x2="944.61" y2="137.58" stroke="#8c8c78" stroke-width="4.2" stroke-linecap="butt" opacity="0.45"/><line x1="942.43" y1="147.03" x2="944.61" y2="137.58" stroke="#f2e61a" stroke-width="3.2"/><line x1="948.20" y1="151.30" x2="956.60" y2="146.45" stroke="#8c8c78" stroke-width="4.2" stroke-linecap="butt" opacity="0.45"/><line x1="948.20" y1="151.30" x2="956.60" y2="146.45" stroke="#f2e61a" stroke-width="3.2"/><line x1="949.06" y1="158.28" x2="958.38" y2="160.95" stroke="#8c8c78" stroke-width="4.2" stroke-linecap="butt" opacity="0.45"/><line x1="949.06" y1="158.28" x2="958.38" y2="160.95" stroke="#f2e61a" stroke-width="3.2"/><line x1="945.31" y1="163.35" x2="950.59" y2="171.48" stroke="#8c8c78" stroke-width="4.2" stroke-linecap="butt" opacity="0.45"/><line x1="945.31" y1="163.35" x2="950.59" y2="171.48" stroke="#f2e61a" stroke-width="3.2"/><line x1="938.08" y1="164.49" x2="935.57" y2="173.86" stroke="#8c8c78" stroke-width="4.2" stroke-linecap="butt" opacity="0.45"/><line x1="938.08" y1="164.49" x2="935.57" y2="173.86" stroke="#f2e61a" stroke-width="3.2"/><line x1="932.61" y1="160.30" x2="924.21" y2="165.15" stroke="#8c8c78" stroke-width="4.2" stroke-linecap="butt" opacity="0.45"/><line x1="932.61" y1="160.30" x2="924.21" y2="165.15" stroke="#f2e61a" stroke-width="3.2"/><circle cx="940.41" cy="155.80" r="9.7" fill="#f2e61a" stroke="#f5a623" stroke-width="1"/><g transform="translate(907.31,135.00) scale(0.052083)"><path d="M330,785 C280,815 200,815 160,790 C105,755 90,680 110,620 C135,545 210,520 290,535 C320,470 380,425 450,428 C530,432 575,490 580,565 C670,570 725,640 720,710 C715,790 650,825 570,822 C480,820 390,815 330,785 Z" fill="#d9d9d9" stroke="#2b5fb4" stroke-width="44" stroke-linejoin="round"/><path d="M465,640 C490,600 540,585 600,588" fill="none" stroke="#2b5fb4" stroke-width="44" stroke-linecap="round"/></g>
<text transform="translate(930.31,220.80) scale(1.07,1)" text-anchor="middle" font-size="25.2" fill="#cc0000">14</text><circle cx="951.97" cy="205.90" r="2.95" fill="none" stroke="#cc0000" stroke-width="1.75"/>
<text transform="translate(930.31,248.80) scale(1.07,1)" text-anchor="middle" font-size="25.2" fill="#1e90ff">10</text><circle cx="951.97" cy="233.90" r="2.95" fill="none" stroke="#1e90ff" stroke-width="1.75"/>
<text transform="translate(1015.15,106.50) scale(1.05,1)" text-anchor="middle" font-size="20.48" fill="#cc0000">sob</text>
<text transform="translate(1015.15,128.70) scale(1.05,1)" text-anchor="middle" font-size="20.48" fill="#cc0000">25.10</text>
<g transform="translate(985.15,135.00) scale(0.052083)"><path d="M330,700 C230,735 110,690 100,560 C95,450 170,385 270,385 C320,385 360,395 390,410 C380,280 460,180 560,180 C640,180 700,230 725,275 C770,265 810,262 850,270 C970,290 1060,380 1060,500 C1060,570 1030,620 1000,650 L720,620 L400,620 Z" fill="#d9d9d9" stroke="#2b5fb4" stroke-width="44" stroke-linejoin="round"/><path d="M390,410 C410,425 425,440 435,460 M725,275 C735,295 740,315 742,340" fill="none" stroke="#2b5fb4" stroke-width="44" stroke-linecap="round"/></g><g transform="translate(985.15,135.00) scale(0.052083)"><path d="M580,705 C520,760 400,760 360,700 C320,640 330,520 400,480 C450,455 510,460 545,475 C570,400 620,355 690,355 C770,355 830,410 835,480 C920,490 965,560 960,620 C955,720 870,770 780,770 C700,770 630,740 580,705 Z" fill="#fafafa" stroke="#2b5fb4" stroke-width="44" stroke-linejoin="round"/><path d="M725,570 C760,520 800,495 850,495" fill="none" stroke="#2b5fb4" stroke-width="44" stroke-linecap="round"/></g>
<text transform="translate(1009.15,220.80) scale(1.07,1)" text-anchor="middle" font-size="25.2" fill="#cc0000">13</text><circle cx="1030.82" cy="205.90" r="2.95" fill="none" stroke="#cc0000" stroke-width="1.75"/>
<text transform="translate(1009.15,248.80) scale(1.07,1)" text-anchor="middle" font-size="25.2" fill="#1e90ff">10</text><circle cx="1030.82" cy="233.90" r="2.95" fill="none" stroke="#1e90ff" stroke-width="1.75"/>
<text transform="translate(1094.00,106.50) scale(1.05,1)" text-anchor="middle" font-size="20.48" fill="#cc0000">ned</text>
<text transform="translate(1094.00,128.70) scale(1.05,1)" text-anchor="middle" font-size="20.48" fill="#cc0000">26.10</text>
<g transform="translate(1064.00,135.00) scale(0.052083)"><path d="M330,700 C230,735 110,690 100,560 C95,450 170,385 270,385 C320,385 360,395 390,410 C380,280 460,180 560,180 C640,180 700,230 725,275 C770,265 810,262 850,270 C970,290 1060,380 1060,500 C1060,570 1030,620 1000,650 L720,620 L400,620 Z" fill="#d9d9d9" stroke="#2b5fb4" stroke-width="44" stroke-linejoin="round"/><path d="M390,410 C410,425 425,440 435,460 M725,275 C735,295 740,315 742,340" fill="none" stroke="#2b5fb4" stroke-width="44" stroke-linecap="round"/></g><g transform="translate(1064.00,135.00) scale(0.052083)"><path d="M580,705 C520,760 400,760 360,700 C320,640 330,520 400,480 C450,455 510,460 545,475 C570,400 620,355 690,355 C770,355 830,410 835,480 C920,490 965,560 960,620 C955,720 870,770 780,770 C700,770 630,740 580,705 Z" fill="#fafafa" stroke="#2b5fb4" stroke-width="44" stroke-linejoin="round"/><path d="M725,570 C760,520 800,495 850,495" fill="none" stroke="#2b5fb4" stroke-width="44" stroke-linecap="round"/></g>
<text transform="translate(1088.00,220.80) scale(1.07,1)" text-anchor="middle" font-size="25.2" fill="#cc0000">13</text><circle cx="1109.66" cy="205.90" r="2.95" fill="none" stroke="#cc0000" stroke-width="1.75"/>
<text transform="translate(1088.00,248.80) scale(1.07,1)" text-anchor="middle" font-size="25.2" fill="#1e90ff">9</text><circle cx="1102.03" cy="233.90" r="2.95" fill="none" stroke="#1e90ff" stroke-width="1.75"/>
<text x="579.60" y="407.80" text-anchor="middle" font-size="24" fill="#000">Temperatura (°C)</text>
<rect x="69" y="417" width="1025" height="197" fill="#f9f9f9"/>
<polygon points="69.00,548.50 147.85,524.30 226.69,529.30 305.54,551.90 384.38,565.90 463.23,560.40 542.08,553.00 620.92,522.50 699.77,497.00 778.62,492.00 857.46,495.80 936.31,486.20 1015.15,486.20 1094.00,490.80 1094.00,565.20 1015.15,555.20 936.31,559.10 857.46,554.60 778.62,548.80 699.77,549.80 620.92,575.60 542.08,589.80 463.23,584.10 384.38,585.70 305.54,564.30 226.69,554.80 147.85,541.00 69.00,555.30" fill="rgba(40,110,230,0.36)"/>
<polygon points="69.00,451.40 147.85,459.30 226.69,452.60 305.54,468.00 384.38,468.40 463.23,474.50 542.08,483.00 620.92,468.40 699.77,466.00 778.62,460.50 857.46,451.50 936.31,448.80 1015.15,458.90 1094.00,459.80 1094.00,533.30 1015.15,527.20 936.31,521.20 857.46,510.40 778.62,516.00 699.77,520.00 620.92,521.00 542.08,519.80 463.23,497.70 384.38,486.40 305.54,481.90 226.69,477.80 147.85,476.30 69.00,458.20" fill="rgba(29,200,29,0.35)"/>
<rect x="69" y="425.00" width="1025" height="2" fill="rgba(0,0,0,0.15)"/>
<rect x="69" y="473.00" width="1025" height="2" fill="rgba(0,0,0,0.15)"/>
<rect x="69" y="521.30" width="1025" height="2" fill="rgba(0,0,0,0.15)"/>
<rect x="69" y="570.00" width="1025" height="2" fill="rgba(0,0,0,0.15)"/>
<rect x="225.69" y="418" width="2" height="196" fill="rgba(0,0,0,0.15)"/>
<rect x="383.38" y="418" width="2" height="196" fill="rgba(0,0,0,0.15)"/>
<rect x="541.08" y="418" width="2" height="196" fill="rgba(0,0,0,0.15)"/>
<rect x="698.77" y="418" width="2" height="196" fill="rgba(0,0,0,0.15)"/>
<rect x="856.46" y="418" width="2" height="196" fill="rgba(0,0,0,0.15)"/>
<rect x="1014.15" y="418" width="2" height="196" fill="rgba(0,0,0,0.15)"/>
<polyline points="69.00,552.50 147.85,532.70 226.69,542.20 305.54,558.60 384.38,576.20 463.23,572.20 542.08,571.00 620.92,548.50 699.77,523.50 778.62,519.20 857.46,525.80 936.31,521.80 1015.15,520.20 1094.00,528.80" fill="none" stroke="#1e90ff" stroke-width="5.5" stroke-linejoin="round"/>
<polyline points="69.00,454.80 147.85,467.20 226.69,465.40 305.54,474.40 384.38,477.80 463.23,486.90 542.08,501.10 620.92,494.30 699.77,491.60 778.62,489.30 857.46,481.30 936.31,484.70 1015.15,493.20 1094.00,496.80" fill="none" stroke="#ff0000" stroke-width="5.5" stroke-linejoin="round"/>
<rect x="69" y="609.07" width="5" height="1.2" fill="#333"/>
<rect x="69" y="599.41" width="5" height="1.2" fill="#333"/>
<rect x="69" y="589.74" width="5" height="1.2" fill="#333"/>
<rect x="69" y="580.07" width="5" height="1.2" fill="#333"/>
<rect x="69" y="570.40" width="5" height="1.2" fill="#333"/>
<rect x="69" y="560.74" width="5" height="1.2" fill="#333"/>
<rect x="69" y="551.07" width="5" height="1.2" fill="#333"/>
<rect x="69" y="541.40" width="5" height="1.2" fill="#333"/>
<rect x="69" y="531.74" width="5" height="1.2" fill="#333"/>
<rect x="69" y="522.07" width="5" height="1.2" fill="#333"/>
<rect x="69" y="512.40" width="5" height="1.2" fill="#333"/>
<rect x="69" y="502.74" width="5" height="1.2" fill="#333"/>
<rect x="69" y="493.07" width="5" height="1.2" fill="#333"/>
<rect x="69" y="483.40" width="5" height="1.2" fill="#333"/>
<rect x="69" y="473.73" width="5" height="1.2" fill="#333"/>
<rect x="69" y="464.07" width="5" height="1.2" fill="#333"/>
<rect x="69" y="454.40" width="5" height="1.2" fill="#333"/>
<rect x="69" y="444.73" width="5" height="1.2" fill="#333"/>
<rect x="69" y="435.07" width="5" height="1.2" fill="#333"/>
<rect x="69" y="425.40" width="5" height="1.2" fill="#333"/>
<rect x="69.5" y="417.5" width="1025" height="197" fill="none" stroke="#222" stroke-width="1.2"/>
<text transform="translate(64.00,433.00) scale(1.05,1)" text-anchor="end" font-size="19.95" fill="#000">20</text>
<text transform="translate(64.00,481.00) scale(1.05,1)" text-anchor="end" font-size="19.95" fill="#000">15</text>
<text transform="translate(64.00,529.30) scale(1.05,1)" text-anchor="end" font-size="19.95" fill="#000">10</text>
<text transform="translate(65.00,578.00) scale(1.05,1)" text-anchor="end" font-size="19.95" fill="#000">5</text>
<text transform="translate(749.5,483.6) scale(1.01,1)" font-size="19.2" fill="#0000f0">© vreme.us &amp; vreme.pro</text>
<text x="578.20" y="668.20" text-anchor="middle" font-size="24" fill="#000">Količina padavin (mm) / Možnost padavin (%)</text>
<text transform="translate(69.00,692.70) scale(1.05,1)" text-anchor="middle" font-size="20.48" fill="#000">pon</text>
<text transform="translate(147.85,692.70) scale(1.05,1)" text-anchor="middle" font-size="20.48" fill="#000">tor</text>
<text transform="translate(226.69,692.70) scale(1.05,1)" text-anchor="middle" font-size="20.48" fill="#000">sre</text>
<text transform="translate(305.54,692.70) scale(1.05,1)" text-anchor="middle" font-size="20.48" fill="#000">čet</text>
<text transform="translate(384.38,692.70) scale(1.05,1)" text-anchor="middle" font-size="20.48" fill="#000">pet</text>
<text transform="translate(463.23,692.70) scale(1.05,1)" text-anchor="middle" font-size="20.48" fill="#000">sob</text>
<text transform="translate(542.08,692.70) scale(1.05,1)" text-anchor="middle" font-size="20.48" fill="#000">ned</text>
<text transform="translate(620.92,692.70) scale(1.05,1)" text-anchor="middle" font-size="20.48" fill="#000">pon</text>
<text transform="translate(699.77,692.70) scale(1.05,1)" text-anchor="middle" font-size="20.48" fill="#000">tor</text>
<text transform="translate(778.62,692.70) scale(1.05,1)" text-anchor="middle" font-size="20.48" fill="#000">sre</text>
<text transform="translate(857.46,692.70) scale(1.05,1)" text-anchor="middle" font-size="20.48" fill="#000">čet</text>
<text transform="translate(936.31,692.70) scale(1.05,1)" text-anchor="middle" font-size="20.48" fill="#000">pet</text>
<text transform="translate(1015.15,692.70) scale(1.05,1)" text-anchor="middle" font-size="20.48" fill="#000">sob</text>
<text transform="translate(1094.00,692.70) scale(1.05,1)" text-anchor="middle" font-size="20.48" fill="#000">ned</text>
<rect x="69" y="756.40" width="1025" height="2" fill="rgba(0,0,0,0.15)"/>
<rect x="69" y="826.40" width="1025" height="2" fill="rgba(0,0,0,0.15)"/>
<rect x="225.69" y="701" width="2" height="196" fill="rgba(0,0,0,0.15)"/>
<rect x="383.38" y="701" width="2" height="196" fill="rgba(0,0,0,0.15)"/>
<rect x="541.08" y="701" width="2" height="196" fill="rgba(0,0,0,0.15)"/>
<rect x="698.77" y="701" width="2" height="196" fill="rgba(0,0,0,0.15)"/>
<rect x="856.46" y="701" width="2" height="196" fill="rgba(0,0,0,0.15)"/>
<rect x="1014.15" y="701" width="2" height="196" fill="rgba(0,0,0,0.15)"/>
<rect x="594.92" y="894.70" width="52" height="2.70" fill="#0050ff"/>
<rect x="673.77" y="815.80" width="52" height="81.60" fill="#0050ff"/>
<rect x="752.62" y="820.80" width="52" height="76.60" fill="#0050ff"/>
<rect x="831.46" y="857.00" width="52" height="40.40" fill="#0050ff"/>
<rect x="69.00" y="895.60" width="10.5" height="1.8" fill="#222"/>
<rect x="137.35" y="895.60" width="21" height="1.8" fill="#222"/>
<rect x="216.19" y="895.60" width="21" height="1.8" fill="#222"/>
<rect x="295.04" y="895.60" width="21" height="1.8" fill="#222"/>
<rect x="373.88" y="895.60" width="21" height="1.8" fill="#222"/>
<rect x="452.73" y="895.60" width="21" height="1.8" fill="#222"/>
<rect x="531.58" y="895.60" width="21" height="1.8" fill="#222"/>
<rect x="619.42" y="856.40" width="3" height="41.00" fill="#808080"/>
<rect x="610.42" y="854.90" width="21" height="3" fill="#808080"/>
<rect x="698.27" y="712.20" width="3" height="185.20" fill="#808080"/>
<rect x="689.27" y="710.70" width="21" height="3" fill="#808080"/>
<rect x="777.12" y="725.30" width="3" height="172.10" fill="#808080"/>
<rect x="768.12" y="723.80" width="21" height="3" fill="#808080"/>
<rect x="855.96" y="780.30" width="3" height="117.10" fill="#808080"/>
<rect x="846.96" y="778.80" width="21" height="3" fill="#808080"/>
<rect x="925.81" y="895.60" width="21" height="1.8" fill="#222"/>
<rect x="1004.65" y="895.60" width="21" height="1.8" fill="#222"/>
<rect x="1083.50" y="895.60" width="10.5" height="1.8" fill="#222"/>
<rect x="69.5" y="700.5" width="1025" height="197" fill="none" stroke="#222" stroke-width="1.2"/>
<text transform="translate(64.00,765.50) scale(1.05,1)" text-anchor="end" font-size="19.95" fill="#000">20</text>
<text transform="translate(64.00,834.50) scale(1.05,1)" text-anchor="end" font-size="19.95" fill="#000">10</text>
<text transform="translate(65.30,892.70) scale(1.05,1)" text-anchor="end" font-size="19.95" fill="#000">0</text>
<text transform="translate(69.00,926.90) scale(1.05,1)" text-anchor="middle" font-size="25.20" fill="#4fd6e2">0%</text>
<text transform="translate(147.85,926.90) scale(1.05,1)" text-anchor="middle" font-size="25.20" fill="#4fd6e2">5%</text>
<text transform="translate(226.69,926.90) scale(1.05,1)" text-anchor="middle" font-size="25.20" fill="#4fd6e2">5%</text>
<text transform="translate(305.54,926.90) scale(1.05,1)" text-anchor="middle" font-size="25.20" fill="#4fd6e2">0%</text>
<text transform="translate(384.38,926.90) scale(1.05,1)" text-anchor="middle" font-size="25.20" fill="#4fd6e2">10%</text>
<text transform="translate(463.23,926.90) scale(1.05,1)" text-anchor="middle" font-size="25.20" fill="#4fd6e2">5%</text>
<text transform="translate(542.08,926.90) scale(1.05,1)" text-anchor="middle" font-size="25.20" fill="#4fd6e2">5%</text>
<text transform="translate(620.92,926.90) scale(1.05,1)" text-anchor="middle" font-size="25.20" fill="#2896d2">30%</text>
<text transform="translate(699.77,926.90) scale(1.05,1)" text-anchor="middle" font-size="25.20" fill="#0a58b4">70%</text>
<text transform="translate(778.62,926.90) scale(1.05,1)" text-anchor="middle" font-size="25.20" fill="#0a58b4">75%</text>
<text transform="translate(857.46,926.90) scale(1.05,1)" text-anchor="middle" font-size="25.20" fill="#0a58b4">50%</text>
<text transform="translate(936.31,926.90) scale(1.05,1)" text-anchor="middle" font-size="25.20" fill="#2896d2">45%</text>
<text transform="translate(1015.15,926.90) scale(1.05,1)" text-anchor="middle" font-size="25.20" fill="#0a58b4">50%</text>
<text transform="translate(1094.00,926.90) scale(1.05,1)" text-anchor="middle" font-size="25.20" fill="#2896d2">40%</text>
</svg></body></html>
